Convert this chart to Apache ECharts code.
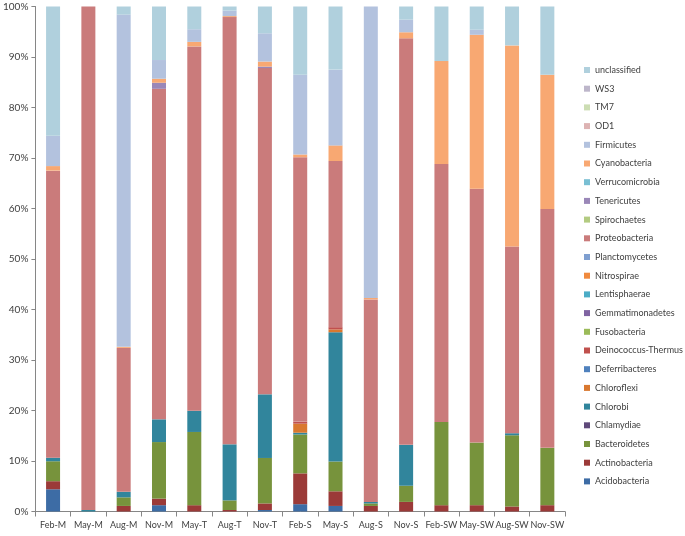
<!DOCTYPE html>
<html>
<head>
<meta charset="utf-8">
<script src="https://cdn.jsdelivr.net/npm/echarts@6/dist/echarts.min.js"></script>
<style>html,body{margin:0;padding:0;background:#fff}#c{width:685px;height:536px}</style>
</head>
<body>
<div id="c"></div>
<script>
var categories = ['Feb-M','May-M','Aug-M','Nov-M','May-T','Aug-T','Nov-T','Feb-S','May-S','Aug-S','Nov-S','Feb-SW','May-SW','Aug-SW','Nov-SW'];
var yTicks = [0,10,20,30,40,50,60,70,80,90,100];

var Acidobacteria     = [4.4, 0, 0, 1.25, 0, 0, 0.3, 1.45, 1.1, 0, 0, 0, 0, 0, 0];
var Actinobacteria    = [1.6, 0, 1.1, 1.3, 1.25, 0.3, 1.3, 6.1, 2.9, 1.1, 1.9, 1.25, 1.25, 1.0, 1.25];
var Bacteroidetes     = [3.95, 0, 1.7, 11.2, 14.5, 1.9, 9.0, 7.7, 5.9, 0.5, 3.2, 16.45, 12.4, 14.1, 11.35];
var Chlamydiae        = [0,0,0,0,0,0,0,0,0,0,0,0,0,0,0];
var Chlorobi          = [0.7, 0.3, 1.1, 4.5, 4.2, 11.1, 12.6, 0.35, 25.6, 0.3, 8.1, 0, 0, 0.4, 0];
var Chloroflexi       = [0,0,0,0,0,0,0,1.8,0.55,0,0,0,0,0,0];
var Deferribacteres   = [0,0,0,0,0,0,0,0,0,0,0,0,0,0,0];
var DeinococcusThermus= [0,0,0,0,0,0,0,0.4,0.45,0,0,0,0,0,0];
var Fusobacteria      = [0,0,0,0,0,0,0,0,0,0,0,0,0,0,0];
var Gemmatimonadetes  = [0,0,0,0,0,0,0,0,0,0,0,0,0,0,0];
var Lentisphaerae     = [0,0,0,0,0,0,0,0,0,0,0,0,0,0,0];
var Nitrospirae       = [0,0,0,0,0,0,0,0,0,0,0,0,0,0,0];
var Planctomycetes    = [0,0,0,0,0,0,0,0,0,0,0,0,0,0,0];
var Proteobacteria    = [56.85, 99.7, 28.5, 65.45, 72.15, 84.6, 64.6, 52.35, 32.9, 40.1, 80.5, 51.1, 50.25, 37.0, 47.3];
var Spirochaetes      = [0,0,0,0,0,0,0,0,0,0,0,0,0,0,0];
var Tenericutes       = [0,0,0,1.2,0,0,0.3,0,0,0,0,0,0,0,0];
var Verrucomicrobia   = [0,0,0,0,0,0,0,0,0,0,0,0,0,0,0];
var Cyanobacteria     = [0.9, 0, 0.2, 0.8, 0.9, 0.2, 1.0, 0.55, 3.1, 0.3, 1.2, 20.4, 30.5, 39.8, 26.6];
var Firmicutes        = [6.0, 0, 65.8, 3.7, 2.5, 1.1, 5.6, 15.8, 15.0, 57.7, 2.5, 0, 1.0, 0, 0];
var OD1               = [0,0,0,0,0,0,0,0,0,0,0,0,0,0,0];
var TM7               = [0,0,0,0,0,0,0,0,0,0,0,0,0,0,0];
var WS3               = [0,0,0,0,0,0,0,0,0,0,0,0,0,0,0];
var unclassified      = [25.6, 0, 1.6, 10.6, 4.5, 0.8, 5.3, 13.5, 12.5, 0, 2.6, 10.8, 4.6, 7.7, 13.5];

var seriesNames = ['Acidobacteria','Actinobacteria','Bacteroidetes','Chlamydiae','Chlorobi','Chloroflexi','Deferribacteres','Deinococcus-Thermus','Fusobacteria','Gemmatimonadetes','Lentisphaerae','Nitrospirae','Planctomycetes','Proteobacteria','Spirochaetes','Tenericutes','Verrucomicrobia','Cyanobacteria','Firmicutes','OD1','TM7','WS3','unclassified'];
var seriesValues = [Acidobacteria,Actinobacteria,Bacteroidetes,Chlamydiae,Chlorobi,Chloroflexi,Deferribacteres,DeinococcusThermus,Fusobacteria,Gemmatimonadetes,Lentisphaerae,Nitrospirae,Planctomycetes,Proteobacteria,Spirochaetes,Tenericutes,Verrucomicrobia,Cyanobacteria,Firmicutes,OD1,TM7,WS3,unclassified];

var colors = ['#3D6CA5','#9B3A38','#77933C','#5F497A','#31859C','#D9782F','#4F81BD','#C0504D','#9BBB59','#8064A2','#4BACC6','#F08A3E','#7F9FD0','#CA7B7B','#B3CB81','#9A87B8','#79BFD3','#F8A872','#B3C2DE','#DDB3B3','#CCDDB3','#BDB6CA','#B0D0DD'];

var font = 'Lato, "Open Sans", sans-serif';
var series = seriesNames.map(function(n, i){
  return {
    name: n, type: 'bar', stack: 'total', data: seriesValues[i],
    barWidth: 14, itemStyle: {color: colors[i]}, emphasis: {disabled: true}
  };
});

var chart = echarts.init(document.getElementById('c'), null, {renderer: 'canvas'});
chart.setOption({
  animation: false,
  backgroundColor: '#ffffff',
  color: colors,
  grid: {left: 34.5, right: 120, top: 6.5, bottom: 24.5, containLabel: false},
  legend: {
    orient: 'vertical', left: 579, top: 59, width: 110,
    data: seriesNames.slice().reverse(),
    icon: 'rect', itemWidth: 6, itemHeight: 6, itemGap: 6.7,
    selectedMode: false,
    textStyle: {fontFamily: font, fontSize: 9, color: '#404040', lineHeight: 12, overflow: 'none', width: 120}
  },
  xAxis: {
    type: 'category', data: categories,
    axisLine: {lineStyle: {color: '#868686', width: 1}},
    axisTick: {show: true, length: 5, alignWithLabel: false, lineStyle: {color: '#868686'}},
    axisLabel: {fontFamily: font, fontSize: 9, color: '#404040', margin: 9, interval: 0},
    splitLine: {show: false}
  },
  yAxis: {
    type: 'value', min: yTicks[0], max: yTicks[yTicks.length-1], interval: yTicks[1]-yTicks[0],
    axisLine: {show: true, lineStyle: {color: '#868686', width: 1}},
    axisTick: {show: true, length: 4, lineStyle: {color: '#868686'}},
    axisLabel: {fontFamily: font, fontSize: 10, color: '#404040', margin: 7, formatter: '{value}%'},
    splitLine: {show: false}
  },
  series: series
});
</script>
</body>
</html>
